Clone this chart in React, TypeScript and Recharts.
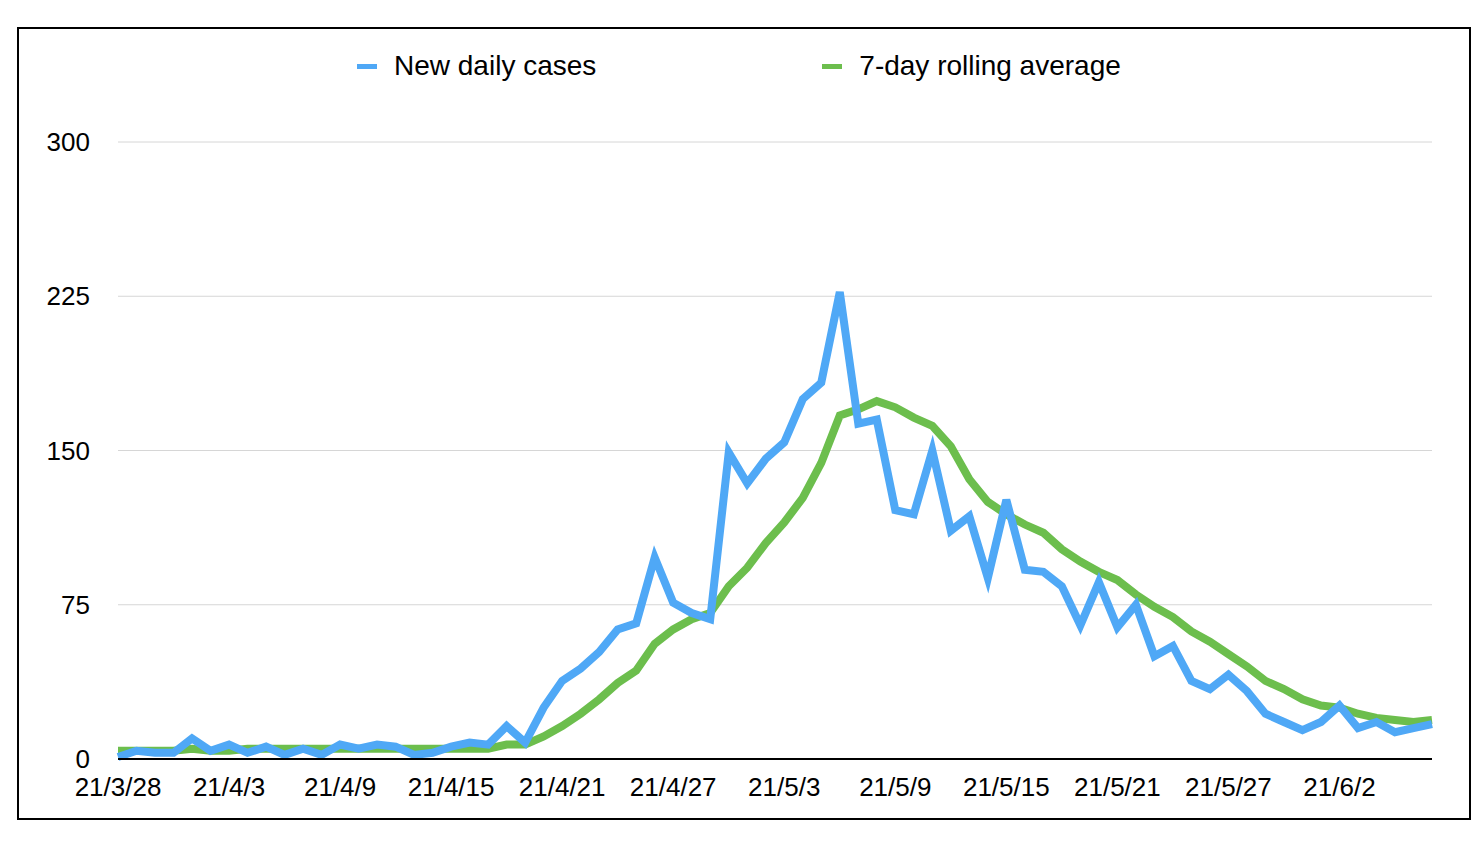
import React from 'react';
import { LineChart, Line, XAxis, YAxis, CartesianGrid, Legend } from 'recharts';

const DATES = [
  '21/3/28', '21/3/29', '21/3/30', '21/3/31',
  '21/4/1', '21/4/2', '21/4/3', '21/4/4', '21/4/5', '21/4/6', '21/4/7', '21/4/8', '21/4/9', '21/4/10',
  '21/4/11', '21/4/12', '21/4/13', '21/4/14', '21/4/15', '21/4/16', '21/4/17', '21/4/18', '21/4/19', '21/4/20',
  '21/4/21', '21/4/22', '21/4/23', '21/4/24', '21/4/25', '21/4/26', '21/4/27', '21/4/28', '21/4/29', '21/4/30',
  '21/5/1', '21/5/2', '21/5/3', '21/5/4', '21/5/5', '21/5/6', '21/5/7', '21/5/8', '21/5/9', '21/5/10',
  '21/5/11', '21/5/12', '21/5/13', '21/5/14', '21/5/15', '21/5/16', '21/5/17', '21/5/18', '21/5/19', '21/5/20',
  '21/5/21', '21/5/22', '21/5/23', '21/5/24', '21/5/25', '21/5/26', '21/5/27', '21/5/28', '21/5/29', '21/5/30',
  '21/5/31', '21/6/1', '21/6/2', '21/6/3', '21/6/4', '21/6/5', '21/6/6', '21/6/7',
];

const NEW_DAILY = [
  1, 4, 3, 3, 10, 4, 7, 3, 6, 2,
  5, 2, 7, 5, 7, 6, 2, 3, 6, 8,
  7, 16, 8, 25, 38, 44, 52, 63, 66, 98,
  76, 71, 68, 149, 134, 146, 154, 175, 183, 227,
  163, 165, 121, 119, 150, 111, 118, 88, 126, 92,
  91, 84, 65, 86, 64, 75, 50, 55, 38, 34,
  41, 33, 22, 18, 14, 18, 26, 15, 18, 13,
  15, 17,
];

const ROLLING_AVG = [
  4, 4, 4, 4, 5, 4, 4, 5, 5, 5,
  5, 5, 5, 5, 5, 5, 5, 5, 5, 5,
  5, 7, 7, 11, 16, 22, 29, 37, 43, 56,
  63, 68, 71, 84, 93, 105, 115, 127, 144, 167,
  170, 174, 171, 166, 162, 152, 136, 125, 119, 114,
  110, 102, 96, 91, 87, 80, 74, 69, 62, 57,
  51, 45, 38, 34, 29, 26, 25, 22, 20, 19,
  18, 19,
];

const Y_TICKS = [0, 75, 150, 225, 300];

const SERIES = [
  { key: 'daily', name: 'New daily cases', color: '#4FA8F6' },
  { key: 'avg', name: '7-day rolling average', color: '#6CBE4D' },
];

const data = DATES.map((d, i) => ({ date: d, daily: NEW_DAILY[i], avg: ROLLING_AVG[i] }));

const FONT = '"Liberation Sans", Arial, Helvetica, sans-serif';

// legend drawn by hand so the order and spacing match the original
const LegendContent = () => (
  <div style={{ display: 'flex', paddingLeft: 357, gap: 226, fontFamily: FONT, fontSize: 28, color: '#000' }}>
    {SERIES.map(s => (
      <div key={s.key} style={{ display: 'flex', alignItems: 'center' }}>
        <div style={{ width: 20, height: 5, backgroundColor: s.color, marginRight: 17 }} />
        <span>{s.name}</span>
      </div>
    ))}
  </div>
);

export default function App() {
  return (
    <div style={{ position: 'fixed', left: 0, top: 0, width: 1484, height: 848, background: '#fff' }}>
      <div style={{
        position: 'absolute', left: 17, top: 27, width: 1454, height: 793,
        border: '2px solid #000', boxSizing: 'border-box'
      }} />
      <div style={{ position: 'absolute', left: 0, top: 0 }}>
        <LineChart width={1484} height={848} data={data} margin={{ top: 142, right: 52, left: 18, bottom: 49 }}>
          <CartesianGrid horizontal vertical={false} stroke="#d6d6d6" strokeWidth={1} />
          <XAxis
            dataKey="date"
            interval={5}
            height={40}
            axisLine={{ stroke: '#000', strokeWidth: 2 }}
            tickLine={false}
            tickMargin={13}
            tick={{ fill: '#000', fontSize: 26, fontFamily: FONT }}
          />
          <YAxis
            domain={[0, 300]}
            ticks={Y_TICKS}
            width={100}
            axisLine={false}
            tickLine={false}
            tickMargin={22}
            tick={{ fill: '#000', fontSize: 26, fontFamily: FONT }}
          />
          <Legend
            layout="horizontal"
            verticalAlign="middle"
            content={<LegendContent />}
            wrapperStyle={{ top: 50, left: 0, width: 1484 }}
          />
          <Line
            dataKey="avg"
            name="7-day rolling average"
            stroke={SERIES[1].color}
            strokeWidth={8}
            dot={false}
            activeDot={false}
            isAnimationActive={false}
          />
          <Line
            dataKey="daily"
            name="New daily cases"
            stroke={SERIES[0].color}
            strokeWidth={8}
            dot={false}
            activeDot={false}
            isAnimationActive={false}
          />
        </LineChart>
      </div>
    </div>
  );
}
